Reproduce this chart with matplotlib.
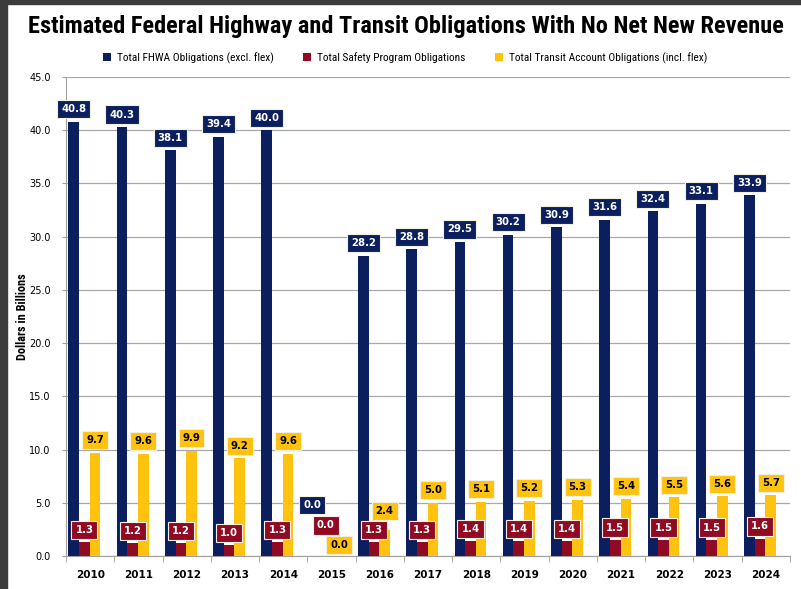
import numpy as np
import matplotlib
matplotlib.use("Agg")
import matplotlib.pyplot as plt
from matplotlib.patches import Rectangle
from matplotlib import font_manager as fm

years = ['2010', '2011', '2012', '2013', '2014', '2015', '2016', '2017',
         '2018', '2019', '2020', '2021', '2022', '2023', '2024']
fhwa = [40.8, 40.3, 38.1, 39.4, 40.0, 0.0, 28.2, 28.8, 29.5, 30.2, 30.9, 31.6, 32.4, 33.1, 33.9]
safety = [1.3, 1.2, 1.2, 1.0, 1.3, 0.0, 1.3, 1.3, 1.4, 1.4, 1.4, 1.5, 1.5, 1.5, 1.6]
transit = [9.7, 9.6, 9.9, 9.2, 9.6, 0.0, 2.4, 5.0, 5.1, 5.2, 5.3, 5.4, 5.5, 5.6, 5.7]
series_names = ['Total FHWA Obligations (excl. flex)', 'Total Safety Program Obligations',
                'Total Transit Account Obligations (incl. flex)']

navy = '#0b1f5e'
red = '#8f0a22'
gold = '#ffc20e'

# look for a narrow face, the original uses one for title / legend
have = {f.name for f in fm.fontManager.ttflist}
stretch = 'normal'
narrow = ['DejaVu Sans']
for cand in ['Liberation Sans Narrow', 'Roboto Condensed', 'Open Sans Condensed', 'Arial Narrow']:
    if cand in have:
        narrow = [cand, 'DejaVu Sans']
        break
else:
    if any(f.name == 'DejaVu Sans' and f.stretch == 'condensed' for f in fm.fontManager.ttflist):
        stretch = 'condensed'

fig = plt.figure(figsize=(8.01, 5.89), dpi=100)
ax = fig.add_axes([66 / 801, 33 / 589, 724 / 801, 479 / 589])

x = np.arange(len(years))
w = 0.22
offs = [-0.34, -0.12, 0.10]
cols = [navy, red, gold]
data = [fhwa, safety, transit]

for vals, off, c, name in zip(data, offs, cols, series_names):
    ax.bar(x + off, vals, w, color=c, label=name, zorder=3)

# boxed value labels
def label(i, k, dx=0, dy=9):
    v = data[k][i]
    tc = 'black' if k == 2 else 'white'
    ax.annotate('%.1f' % v, (x[i] + offs[k], v), xytext=(dx, dy), textcoords='offset points',
                ha='center', va='center', fontsize=7.3, fontweight='bold', color=tc, zorder=5,
                bbox=dict(boxstyle='square,pad=0.4', fc=cols[k], ec='#f4f0e0', lw=0.8))

for i in range(len(years)):
    if years[i] == '2015':
        label(i, 0, -2, 36.5)
        label(i, 1, 0, 22)
        label(i, 2, 2, 8)
        continue
    label(i, 0)
    label(i, 1)
    if years[i] == '2016':
        label(i, 2, 0, 14)
    else:
        label(i, 2)

ax.set_xlim(-0.5, len(years) - 0.5)
ax.set_ylim(0, 45)
ax.set_yticks(np.arange(0, 46, 5))
ax.set_yticklabels(['%.1f' % t for t in np.arange(0, 46, 5)], fontsize=7)
ax.set_xticks(x)
ax.set_xticklabels(years, fontsize=7.5, fontweight='bold')
ax.set_xticks(np.arange(-0.5, len(years), 1), minor=True)
ax.tick_params(axis='x', which='major', length=0, pad=10)
ax.tick_params(axis='x', which='minor', length=4, color='#a0a0a0')
ax.tick_params(axis='y', length=3, color='#a0a0a0', pad=8)
ax.grid(axis='y', color='#a8a8a8', lw=0.9, zorder=0)
ax.set_axisbelow(True)
for s in ['top', 'right']:
    ax.spines[s].set_visible(False)
for s in ['left', 'bottom']:
    ax.spines[s].set_color('#a0a0a0')

ax.set_ylabel('Dollars in Billions', fontsize=8.8, fontweight='bold', family=narrow,
              fontstretch=stretch)
ax.yaxis.set_label_coords(-37 / 724, 0.5)

title = fig.text(406 / 801, 1 - 27 / 589,
                 'Estimated Federal Highway and Transit Obligations With No Net New Revenue',
                 ha='center', va='center', fontsize=17, fontweight='bold', family=narrow,
                 fontstretch=stretch)
# size the title so it spans about the same width as in the original
r = fig.canvas.get_renderer()
tw = title.get_window_extent(r).width
title.set_fontsize(17 * 760 / tw)

leg = fig.legend(loc='center', bbox_to_anchor=(405 / 801, 1 - 58 / 589), ncol=3, frameon=False,
                 prop={'family': narrow, 'size': 8.2, 'stretch': stretch},
                 handlelength=0.7, handleheight=0.7, handletextpad=0.5, columnspacing=2.6)

# dark frame on the left and top edges
fig.patches.append(Rectangle((0, 0), 7 / 801, 1, transform=fig.transFigure, color='#3c3c3c', zorder=10))
fig.patches.append(Rectangle((0, 1 - 4 / 589), 1, 4 / 589, transform=fig.transFigure, color='#3c3c3c', zorder=10))

fig.savefig('out.png', dpi=100)
